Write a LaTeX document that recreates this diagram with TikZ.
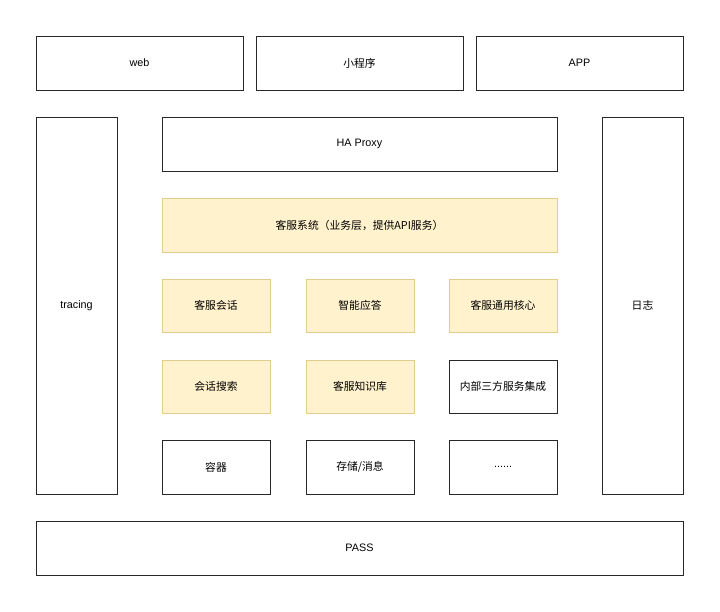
\documentclass[tikz,border=0pt]{standalone}
\usepackage{fontspec}
\setmainfont{Liberation Sans}
\newfontfamily\cjk{Noto Sans CJK SC}
\usepackage{tikz}
\usetikzlibrary{positioning}
\definecolor{BizFill}{RGB}{255, 242, 204}
\definecolor{BizLine}{RGB}{214, 182, 86}
\definecolor{BoxLine}{RGB}{40, 40, 40}

\tikzset{
  plainbox/.style={draw=BoxLine, line width=0.9pt, fill=white, inner sep=0pt,
    font=\cjk\fontsize{10.8}{12}\selectfont},
  latinbox/.style={plainbox, font=\rmfamily\fontsize{10.8}{12}\selectfont},
  bizbox/.style={plainbox, draw=BizLine!70, fill=BizFill}
}

\begin{document}
\begin{tikzpicture}[x=1pt, y=-1pt]
    \useasboundingbox[fill=white] (0,0) rectangle (720,612);

    % Clients
    \node[latinbox, minimum width=207pt, minimum height=54pt] (web) at (139.5,63) {web};
    \node[plainbox, minimum width=207pt, minimum height=54pt] (mini) at (359.5,63) {小程序};
    \node[latinbox, minimum width=207pt, minimum height=54pt] (app) at (579.5,63) {APP};

    % Side columns
    \node[latinbox, minimum width=81pt, minimum height=377pt] (tracing) at (76.5,305.5) {tracing};
    \node[plainbox, minimum width=81pt, minimum height=377pt] (log) at (642.5,305.5) {日志};

    % Gateway and business layer
    \node[latinbox, minimum width=395pt, minimum height=54pt] (proxy) at (359.5,144) {HA Proxy};
    \node[bizbox, minimum width=395pt, minimum height=54pt] (biz) at (359.5,225) {客服系统（业务层，提供API服务）};

    % Modules
    \node[bizbox, minimum width=108pt, minimum height=53pt] (session) at (216,305.5) {客服会话};
    \node[bizbox, minimum width=108pt, minimum height=53pt] (answer) at (360,305.5) {智能应答};
    \node[bizbox, minimum width=108pt, minimum height=53pt] (core) at (503,305.5) {客服通用核心};

    \node[bizbox, minimum width=108pt, minimum height=53pt] (search) at (216,386.5) {会话搜索};
    \node[bizbox, minimum width=108pt, minimum height=53pt] (kb) at (360,386.5) {客服知识库};
    \node[plainbox, minimum width=108pt, minimum height=53pt] (third) at (503,386.5) {内部三方服务集成};

    % Infrastructure
    \node[plainbox, minimum width=108pt, minimum height=54pt] (container) at (216,467) {容器};
    \node[plainbox, minimum width=108pt, minimum height=54pt] (storage) at (360,467) {存储/消息};
    \node[latinbox, minimum width=108pt, minimum height=54pt] (more) at (503,467) {......};

    % Platform
    \node[latinbox, minimum width=647pt, minimum height=54pt] (pass) at (359.5,548) {PASS};
\end{tikzpicture}
\end{document}
